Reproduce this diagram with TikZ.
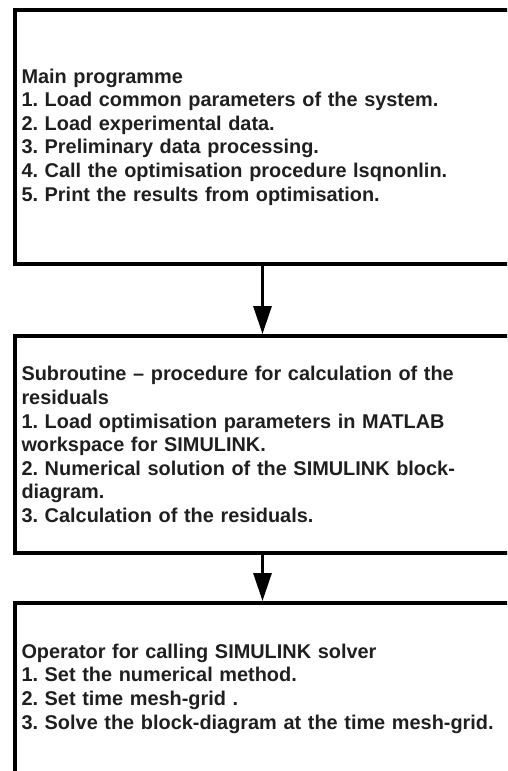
\documentclass[tikz,border=0pt]{standalone}
\usepackage{fontspec}
\setmainfont{Liberation Sans}
\usepackage{tikz}
\usetikzlibrary{arrows.meta,positioning}

\begin{document}
\begin{tikzpicture}[x=1pt,y=1pt]
      \tikzstyle{prog_box}=[draw=black, line width=4pt, rectangle, minimum width=495pt, text width=482pt, inner xsep=6.5pt, inner ysep=0pt, align=left, text=black!88, font=\fontsize{19.9}{23.6}\selectfont\bfseries\frenchspacing]
      \tikzstyle{flow_arrow}=[line width=3pt, -{Triangle[length=28pt,width=18pt]}]

      \path[use as bounding box] (0,0) rectangle (507,-771);
      \clip (0,0) rectangle (507,-771);

      % main programme
      \node (main) [prog_box, minimum height=254pt] at (262.5,-137) {Main programme\\
        1. Load common parameters of the system.\\
        2. Load experimental data.\\
        3. Preliminary data processing.\\
        4. Call the optimisation procedure lsqnonlin.\\
        5. Print the results from optimisation.};

      % subroutine
      \node (residuals) [prog_box, minimum height=217pt, below=68pt of main] {Subroutine -- procedure for calculation of the\\
        residuals\\
        1. Load optimisation parameters in MATLAB\\
        workspace for SIMULINK.\\
        2. Numerical solution of the SIMULINK block-\\
        diagram.\\
        3. Calculation of the residuals.};

      % solver call
      \node (solver) [prog_box, minimum height=171pt, below=46pt of residuals] {Operator for calling SIMULINK solver\\
        1. Set the numerical method.\\
        2. Set time mesh-grid .\\
        3. Solve the block-diagram at the time mesh-grid.};

      \draw [flow_arrow] (main.south) -- (residuals.north);
      \draw [flow_arrow] (residuals.south) -- (solver.north);
    \end{tikzpicture}
\end{document}
